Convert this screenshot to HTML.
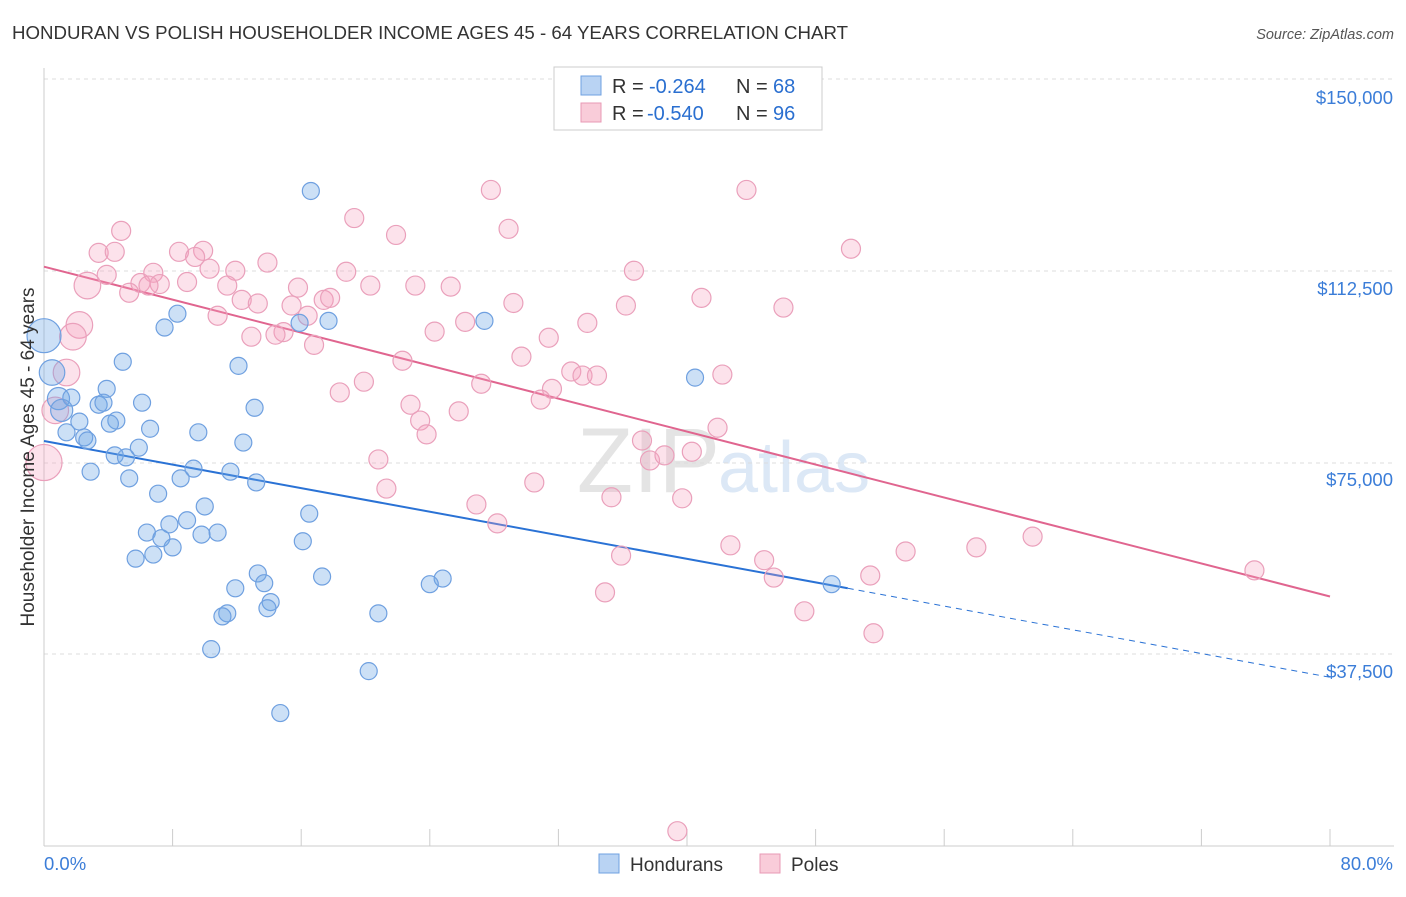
<!DOCTYPE html>
<html><head><meta charset="utf-8"><style>
body{margin:0;background:#fff;font-family:"Liberation Sans",sans-serif}
svg text{font-family:"Liberation Sans",sans-serif}
</style></head><body>
<svg id="chart" width="1406" height="892" viewBox="0 0 1406 892">
<text x="12" y="39" font-size="18" fill="#333" textLength="836" lengthAdjust="spacingAndGlyphs">HONDURAN VS POLISH HOUSEHOLDER INCOME AGES 45 - 64 YEARS CORRELATION CHART</text>
<text x="1394" y="39" font-size="14.5" fill="#555" font-style="italic" text-anchor="end">Source: ZipAtlas.com</text>
<text x="720" y="492" font-size="92" fill="#e4e4e4" text-anchor="end" font-family="Liberation Serif">ZIP</text>
<text x="718" y="492" font-size="72" fill="#dce8f6">atlas</text>
<g id="grid">
<line x1="44" x2="1394" y1="79" y2="79" stroke="#ddd" stroke-dasharray="4,4"/>
<line x1="44" x2="1394" y1="271" y2="271" stroke="#ddd" stroke-dasharray="4,4"/>
<line x1="44" x2="1394" y1="463" y2="463" stroke="#ddd" stroke-dasharray="4,4"/>
<line x1="44" x2="1394" y1="654" y2="654" stroke="#ddd" stroke-dasharray="4,4"/>
<text x="1393" y="104" font-size="18.5" fill="#3b7dd8" text-anchor="end">$150,000</text>
<text x="1393" y="295" font-size="18.5" fill="#3b7dd8" text-anchor="end">$112,500</text>
<text x="1393" y="486" font-size="18.5" fill="#3b7dd8" text-anchor="end">$75,000</text>
<text x="1393" y="678" font-size="18.5" fill="#3b7dd8" text-anchor="end">$37,500</text>
</g>
<g id="axes"></g><g id="trend"></g><g id="pts"></g>
<text transform="translate(34,457) rotate(-90)" font-size="19" fill="#333" text-anchor="middle">Householder Income Ages 45 - 64 years</text>
<text x="44" y="870" font-size="18.5" fill="#3b7dd8">0.0%</text>
<text x="1393" y="870" font-size="18.5" fill="#3b7dd8" text-anchor="end">80.0%</text>
<g>
<rect x="554" y="67" width="268" height="63" fill="#fff" stroke="#ccc"/>
<rect x="581" y="76" width="20" height="19" fill="#b9d3f3" stroke="#6fa0e0"/>
<rect x="581" y="103" width="20" height="19" fill="#f9ccd9" stroke="#e89ab5"/>
<text x="612" y="93" font-size="20" fill="#333">R =</text>
<text x="649" y="93" font-size="20" fill="#2a6fd0">-0.264</text>
<text x="736" y="93" font-size="20" fill="#333">N =</text>
<text x="773" y="93" font-size="20" fill="#2a6fd0">68</text>
<text x="612" y="120" font-size="20" fill="#333">R =</text>
<text x="647" y="120" font-size="20" fill="#2a6fd0">-0.540</text>
<text x="736" y="120" font-size="20" fill="#333">N =</text>
<text x="773" y="120" font-size="20" fill="#2a6fd0">96</text>
</g>
<g>
<rect x="599" y="854" width="20" height="19" fill="#b9d3f3" stroke="#6fa0e0"/>
<text x="630" y="871" font-size="19" fill="#333">Hondurans</text>
<rect x="760" y="854" width="20" height="19" fill="#f9ccd9" stroke="#e89ab5"/>
<text x="791" y="871" font-size="19" fill="#333">Poles</text>
</g>
</svg>
<script>
const xTicks=[0,8,16,24,32,40,48,56,64,72,80];
const blueX=[16.6,8.3,7.5,17.7,27.4,15.9,4.9,12.1,40.5,0,0.5,3.9,0.9,1.7,3.4,3.7,6.1,1.1,13.1,4.5,2.2,4.1,6.6,1.4,9.6,2.5,2.7,12.4,5.9,4.4,5.1,9.3,11.6,2.9,8.5,5.3,13.2,7.1,10.0,16.5,8.9,7.8,6.4,9.8,10.8,7.3,16.1,8.0,6.8,5.7,13.3,17.3,13.7,24.8,24.0,49.0,11.9,14.1,13.9,20.8,11.4,11.1,10.4,20.2,14.7];
const blueY=[128.1,104.1,101.4,102.7,102.7,102.3,94.7,93.9,91.6,99.8,92.6,89.4,87.5,87.7,86.3,86.7,86.7,85.2,85.7,83.2,83.0,82.6,81.6,80.9,80.9,79.9,79.3,78.9,77.9,76.4,76.0,73.8,73.2,73.2,71.9,71.9,71.1,68.9,66.4,65.0,63.7,62.9,61.3,60.9,61.3,60.2,59.6,58.4,57.0,56.2,53.3,52.7,51.4,52.3,51.2,51.2,50.4,47.7,46.5,45.5,45.5,44.9,38.5,34.2,26.0];
const blueSize=[1,1,1,1,1,1,1,1,1,2,1.5,1,1.3,1,1,1,1,1.3,1,1,1,1,1,1,1,1,1,1,1,1,1,1,1,1,1,1,1,1,1,1,1,1,1,1,1,1,1,1,1,1,1,1,1,1,1,1,1,1,1,1,1,1,1,1,1];
const pinkX=[27.8,43.7,19.3,28.9,21.9,4.8,50.2,3.4,4.4,8.4,9.9,9.4,13.9,10.3,11.9,6.8,18.8,36.7,3.9,6.0,7.2,8.9,2.7,6.5,11.4,15.8,20.3,23.1,25.3,5.3,12.3,40.9,17.4,17.8,13.3,15.4,29.2,36.2,46.0,10.8,16.4,26.2,33.8,2.2,14.9,14.4,12.9,24.3,31.4,1.8,16.8,29.7,22.3,1.4,32.8,33.5,34.4,42.2,19.9,27.2,31.6,18.4,30.9,22.8,0.7,25.8,23.4,41.9,23.8,37.2,40.3,20.8,37.7,38.6,0,30.5,21.3,35.3,39.7,26.9,28.2,61.5,58.0,42.7,53.6,35.9,44.8,75.3,51.4,45.4,34.9,47.3,51.6,39.4];
const pinkY=[128.3,128.3,122.8,120.7,119.5,120.3,116.8,116.0,116.2,116.2,116.4,115.2,114.1,112.9,112.5,112.1,112.3,112.5,111.7,110.1,109.9,110.3,109.6,109.6,109.6,109.2,109.6,109.6,109.4,108.2,106.8,107.2,106.8,107.2,106.1,105.7,106.2,105.7,105.3,103.7,103.7,102.5,102.3,101.9,100.5,100.0,99.6,100.6,99.4,99.6,98.0,95.7,94.9,92.6,92.8,92.0,92.0,92.2,90.8,90.4,89.4,88.7,87.3,86.3,85.2,85.0,83.2,81.8,80.5,79.3,77.1,75.6,75.4,76.4,75.0,71.1,69.9,68.2,68.0,66.8,63.1,60.5,58.4,58.8,57.6,56.8,55.9,53.9,52.9,52.5,49.6,45.9,41.6,2.9];
const blueTrend=[[0,79.2],[50,50.4],[80,33.0]];
const pinkTrend=[[0,113.3],[80,48.8]];
const NS="http://www.w3.org/2000/svg";
const X=v=>44+v/80*1286, Y=v=>846-v/150*767;
function mk(t,a,p){const e=document.createElementNS(NS,t);for(const k in a)e.setAttribute(k,a[k]);p.appendChild(e);return e;}
const axes=document.getElementById('axes'),tr=document.getElementById('trend'),pts=document.getElementById('pts');
const ax=mk('line',{x1:44,x2:44,y1:68,y2:846,stroke:'#ccc'},axes);


const bx=mk('line',{x1:44,x2:1394,y1:846,y2:846,stroke:'#ccc'},axes);


xTicks.forEach(v=>{
 const t=mk('line',{x1:X(v),x2:X(v),y1:829,y2:846,stroke:'#ccc'},axes);
 
 
});
const b1=mk('line',{x1:X(blueTrend[0][0]),y1:Y(blueTrend[0][1]),x2:X(blueTrend[1][0]),y2:Y(blueTrend[1][1]),stroke:'#2a72d5','stroke-width':2},tr);


const b2=mk('line',{x1:X(blueTrend[1][0]),y1:Y(blueTrend[1][1]),x2:X(blueTrend[2][0]),y2:Y(blueTrend[2][1]),stroke:'#2a72d5','stroke-width':1,'stroke-dasharray':'6,5'},tr);


const p1=mk('line',{x1:X(pinkTrend[0][0]),y1:Y(pinkTrend[0][1]),x2:X(pinkTrend[1][0]),y2:Y(pinkTrend[1][1]),stroke:'#e0658f','stroke-width':2},tr);


pinkX.forEach((v,i)=>{
 const big=(v===0)?1.9:(v<3&&pinkY[i]>84?1.4:1);
 const c=mk('circle',{cx:X(v),cy:Y(pinkY[i]),r:9.5*big,fill:'rgba(244,160,190,0.3)',stroke:'#eaa0bb','stroke-width':1.2},pts);
 
 
});
blueX.forEach((v,i)=>{
 const c=mk('circle',{cx:X(v),cy:Y(blueY[i]),r:8.5*blueSize[i],fill:'rgba(110,165,230,0.35)',stroke:'#6fa0e0','stroke-width':1.2},pts);
 
 
});
</script>
</body></html>
